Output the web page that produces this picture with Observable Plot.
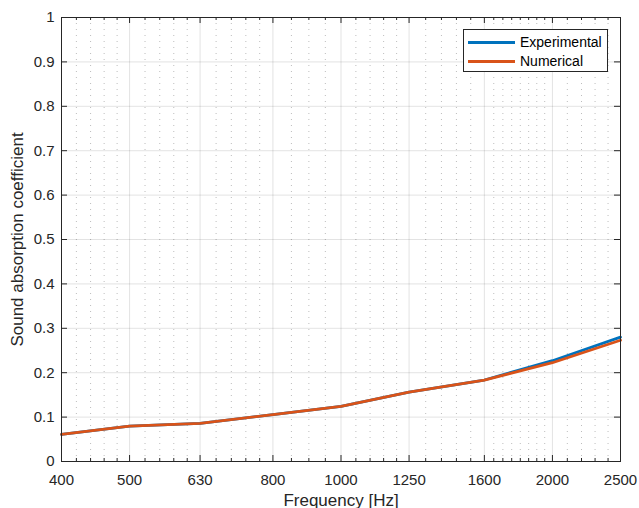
<!DOCTYPE html>
<html>
<head>
<meta charset="utf-8">
<script src="https://cdn.jsdelivr.net/npm/d3@7"></script>
<script src="https://cdn.jsdelivr.net/npm/@observablehq/plot@0.6"></script>
<style>
  body { margin: 0; background: #fff; font-family: "Liberation Sans", Arial, sans-serif; }
  #wrap { position: relative; width: 639px; height: 508px; overflow: hidden; }
  #legend { position: absolute; left: 463px; top: 29px; width: 143px; height: 41px;
    border: 1px solid #262626; background: #fff; font-size: 14px; color: #000; }
  .item { position: absolute; left: 4px; height: 18px; display: flex; align-items: center; }
  .swatch { width: 47px; height: 3px; margin-right: 5px; }
</style>
</head>
<body>
<div id="wrap"></div>
<script>
const frequencies = [400, 500, 630, 800, 1000, 1250, 1600, 2000, 2500];
const experimental = [0.061, 0.0795, 0.086, 0.1055, 0.124, 0.1565, 0.1835, 0.227, 0.280];
const numerical    = [0.061, 0.0795, 0.086, 0.1055, 0.124, 0.1565, 0.1835, 0.2225, 0.273];
const seriesNames = ["Experimental", "Numerical"];
const seriesColors = ["#0072BD", "#D95319"];
const xMinorTicks = [420, 440, 460, 480, 526, 552, 578, 604, 664, 698, 732, 766,
  850, 900, 950, 1050, 1100, 1150, 1200, 1320, 1390, 1460, 1530,
  1650, 1700, 1750, 1800, 1850, 1900, 1950, 2100, 2200, 2300, 2400];
const yTicks = [0, 0.1, 0.2, 0.3, 0.4, 0.5, 0.6, 0.7, 0.8, 0.9, 1];
const yTickLabels = ["0", "0.1", "0.2", "0.3", "0.4", "0.5", "0.6", "0.7", "0.8", "0.9", "1"];
const xLabel = "Frequency [Hz]";
const yLabel = "Sound absorption coefficient";

const data = [];
seriesNames.forEach((s, i) => {
  const vals = i === 0 ? experimental : numerical;
  frequencies.forEach((f, j) => data.push({series: s, f, v: vals[j]}));
});

const W = 639, H = 508, mL = 61, mR = 19, mT = 17, mB = 47;
const pw = W - mL - mR, ph = H - mT - mB;
const axisColor = "#262626";

const chart = Plot.plot({
  width: W, height: H,
  marginLeft: mL, marginRight: mR, marginTop: mT, marginBottom: mB,
  style: {fontFamily: "'Liberation Sans', Arial, sans-serif", fontSize: "15px", color: "#262626", background: "#fff"},
  x: {type: "log", domain: [400, 2500]},
  y: {domain: [0, 1]},
  color: {domain: seriesNames, range: seriesColors},
  marks: [
    Plot.ruleX(xMinorTicks, {x: d => d, stroke: axisColor, strokeOpacity: 0.3, strokeDasharray: "1 5"}),
    Plot.ruleX(frequencies, {x: d => d, stroke: axisColor, strokeOpacity: 0.13}),
    Plot.ruleY(yTicks, {y: d => d, stroke: axisColor, strokeOpacity: 0.13}),
    Plot.line(data, {x: "f", y: "v", z: "series", stroke: "series", strokeWidth: 2.8, strokeLinejoin: "round"}),
    Plot.frame({stroke: axisColor, strokeWidth: 1}),
    Plot.tickX(frequencies, {x: d => d, insetTop: ph - 6, stroke: axisColor}),
    Plot.tickX(frequencies, {x: d => d, insetBottom: ph - 6, stroke: axisColor}),
    Plot.tickX(xMinorTicks, {x: d => d, insetTop: ph - 3, stroke: axisColor}),
    Plot.tickX(xMinorTicks, {x: d => d, insetBottom: ph - 3, stroke: axisColor}),
    Plot.tickY(yTicks, {y: d => d, insetRight: pw - 6, stroke: axisColor}),
    Plot.tickY(yTicks, {y: d => d, insetLeft: pw - 6, stroke: axisColor}),
    Plot.axisX({ticks: frequencies, tickSize: 0, tickPadding: 13, fontSize: 15, tickFormat: d => String(d), label: null, fill: "#262626"}),
    Plot.axisY({ticks: yTicks, tickSize: 0, tickPadding: 7, fontSize: 15, tickFormat: d => yTickLabels[yTicks.indexOf(d)], label: null, fill: "#262626"}),
    Plot.text([xLabel], {frameAnchor: "bottom", textAnchor: "middle", lineAnchor: "middle", dy: 39, fontSize: 17, fill: "#262626", text: d => d}),
    Plot.text([yLabel], {frameAnchor: "left", textAnchor: "middle", lineAnchor: "middle", dx: -43.5, rotate: -90, fontSize: 17, fill: "#262626", text: d => d})
  ]
});

const wrap = document.getElementById("wrap");
wrap.appendChild(chart);

const legend = document.createElement("div");
legend.id = "legend";
seriesNames.forEach((s, i) => {
  const item = document.createElement("div");
  item.className = "item";
  item.style.top = (i === 0 ? 3 : 22) + "px";
  const sw = document.createElement("div");
  sw.className = "swatch";
  sw.style.background = seriesColors[i];
  const t = document.createElement("span");
  t.textContent = s;
  item.appendChild(sw);
  item.appendChild(t);
  legend.appendChild(item);
});
wrap.appendChild(legend);
</script>
</body>
</html>
